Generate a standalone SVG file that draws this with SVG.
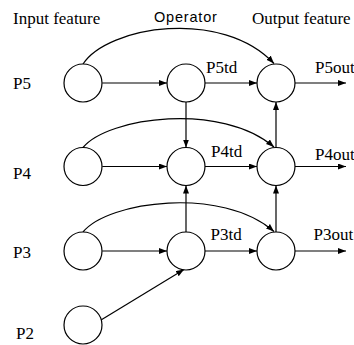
<svg xmlns="http://www.w3.org/2000/svg" width="354" height="345" viewBox="0 0 354 345">
  <style>
    .node { fill: #fff; stroke: #000; stroke-width: 1.2; }
    .edge { fill: none; stroke: #000; stroke-width: 1.2; marker-end: url(#arrow); }
    .lbl { font-family: "Liberation Serif", "Times New Roman", serif; font-size: 17px; fill: #000; }
    .head { font-family: "Liberation Sans", Arial, sans-serif; font-size: 14.5px; letter-spacing: 0.8px; fill: #000; }
  </style>
  <defs>
    <marker id="arrow" markerUnits="userSpaceOnUse" markerWidth="9" markerHeight="7" refX="8" refY="3" orient="auto">
      <path d="M0,0 L8,3 L0,6 z" fill="#000"/>
    </marker>
  </defs>
  <rect width="354" height="345" fill="#fff"/>

  <!-- column headings -->
  <text class="lbl" x="13" y="24">Input feature</text>
  <text class="head" x="154" y="22">Operator</text>
  <text class="lbl" x="252" y="24">Output feature</text>

  <!-- connectors -->
  <g id="connectors">
    <!-- skip arcs: input to output -->
    <path class="edge" d="M83,64 C108,26 222,8 274,63.5"/>
    <path class="edge" d="M83,147.5 C108,117 222,102 274,147"/>
    <path class="edge" d="M83,232 C108,201 222,186 274,231.5"/>
    <!-- input to operator -->
    <path class="edge" d="M102.3,83 H167"/>
    <path class="edge" d="M102.3,166.5 H167"/>
    <path class="edge" d="M102.3,251 H167"/>
    <!-- operator to output -->
    <path class="edge" d="M205,83 H257"/>
    <path class="edge" d="M205,166.5 H257"/>
    <path class="edge" d="M205,251 H257"/>
    <!-- outputs leaving -->
    <path class="edge" d="M295,83 H346"/>
    <path class="edge" d="M295,166.5 H346"/>
    <path class="edge" d="M295,251 H346"/>
    <!-- vertical links -->
    <path class="edge" d="M186,102 V147.5"/>
    <path class="edge" d="M186,232 V185.5"/>
    <path class="edge" d="M276,147.5 V102"/>
    <path class="edge" d="M276,232 V185.5"/>
    <!-- P2 into P3 operator -->
    <path class="edge" d="M101,320 L184,269.5"/>
  </g>

  <!-- input nodes -->
  <g id="in-p5"><circle class="node" cx="83" cy="83" r="19"/><text class="lbl" x="13" y="89">P5</text></g>
  <g id="in-p4"><circle class="node" cx="83" cy="166.5" r="19"/><text class="lbl" x="13" y="179">P4</text></g>
  <g id="in-p3"><circle class="node" cx="83" cy="251" r="19"/><text class="lbl" x="13" y="257.5">P3</text></g>
  <g id="in-p2"><circle class="node" cx="83" cy="325" r="19"/><text class="lbl" x="16" y="339">P2</text></g>

  <!-- operator nodes -->
  <g id="op-p5"><circle class="node" cx="186" cy="83" r="19"/><text class="lbl" x="206" y="73">P5td</text></g>
  <g id="op-p4"><circle class="node" cx="186" cy="166.5" r="19"/><text class="lbl" x="211" y="157">P4td</text></g>
  <g id="op-p3"><circle class="node" cx="186" cy="251" r="19"/><text class="lbl" x="210.5" y="240">P3td</text></g>

  <!-- output nodes -->
  <g id="out-p5"><circle class="node" cx="276" cy="83" r="19"/><text class="lbl" x="315" y="73">P5out</text></g>
  <g id="out-p4"><circle class="node" cx="276" cy="166.5" r="19"/><text class="lbl" x="315" y="160">P4out</text></g>
  <g id="out-p3"><circle class="node" cx="276" cy="251" r="19"/><text class="lbl" x="313.5" y="240">P3out</text></g>
</svg>
